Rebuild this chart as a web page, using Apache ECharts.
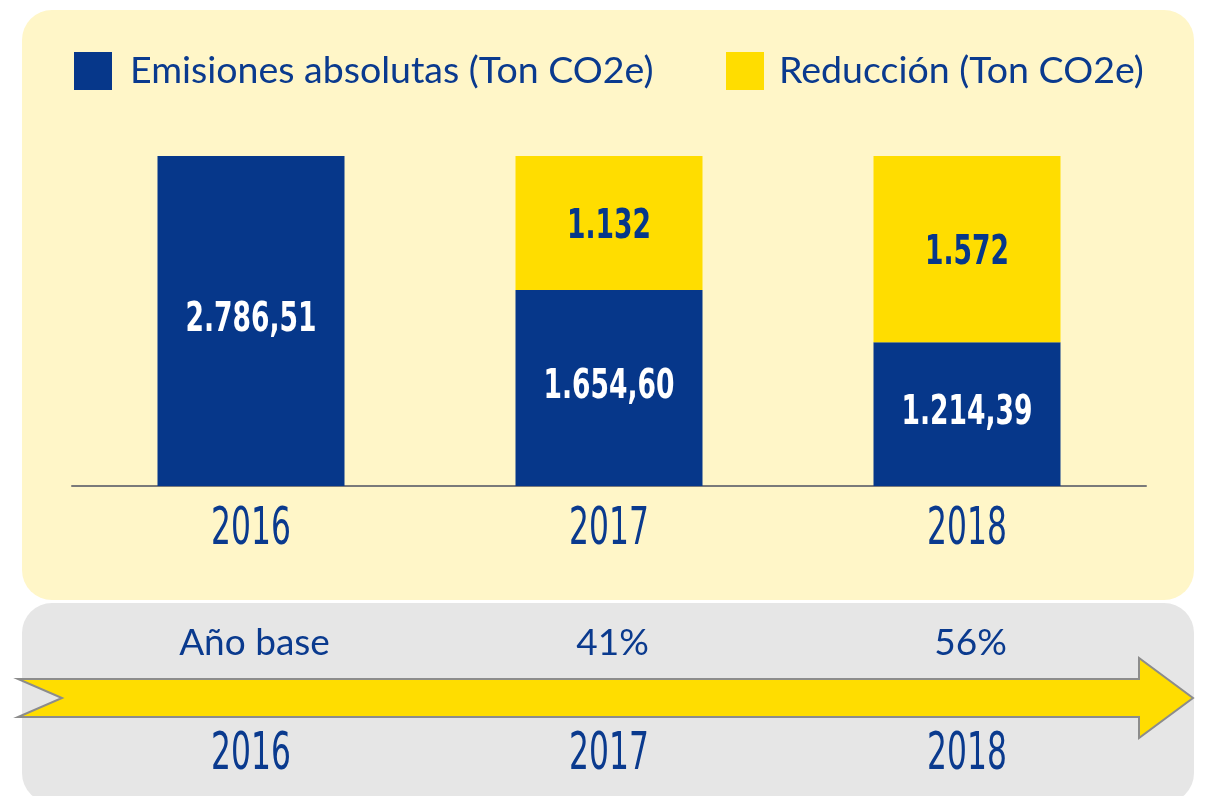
<!DOCTYPE html>
<html>
<head>
<meta charset="utf-8">
<script src="https://cdn.jsdelivr.net/npm/echarts@6/dist/echarts.min.js"></script>
<style>
  html, body { margin: 0; padding: 0; background: #ffffff; }
  #chart { width: 1216px; height: 796px; }
</style>
</head>
<body>
<div id="chart"></div>
<script>
const categories = ['2016', '2017', '2018'];
const emisiones = [2786.51, 1654.60, 1214.39];
const reduccion = [null, 1132, 1572];
const reduccionPct = ['Año base', '41%', '56%'];
const seriesNames = ['Emisiones absolutas (Ton CO2e)', 'Reducción (Ton CO2e)'];

const BLUE = '#06378A';
const YELLOW = '#FFDD00';
const TEXT_BLUE = '#0A3A8E';

function fmt(v, dec) {
  const fixed = v.toFixed(dec);
  const parts = fixed.split('.');
  const intPart = parts[0].replace(/\B(?=(\d{3})+(?!\d))/g, '.');
  return dec > 0 ? intPart + ',' + parts[1] : intPart;
}

// label data: [categoryIndex, segmentLow, segmentHigh, kind(0=emisiones,1=reduccion)]
const segLabels = [];
categories.forEach((c, i) => {
  segLabels.push([i, 0, emisiones[i], 0]);
  if (reduccion[i] != null) segLabels.push([i, emisiones[i], emisiones[i] + reduccion[i], 1]);
});
const yearData = categories.map((c, i) => [i, 0]);

const chart = echarts.init(document.getElementById('chart'), null, { renderer: 'canvas' });
const geo = 'Lato, sans-serif';
const YEAR_FONT = 'condensed normal 52px "DejaVu Sans", sans-serif';
const VAL_FONT = 'condensed bold 41px "DejaVu Sans", sans-serif';

function yearRender(dy) {
  return function (params, api) {
    const i = api.value(0);
    const p = api.coord([i, 0]);
    return {
      type: 'text', x: p[0], y: p[1] + dy, scaleX: 0.67,
      style: { text: categories[i], font: YEAR_FONT, fill: TEXT_BLUE, align: 'center', verticalAlign: 'middle' }
    };
  };
}

chart.setOption({
  backgroundColor: '#ffffff',
  animation: false,
  graphic: [
    { type: 'rect', z: -10, shape: { x: 22, y: 10, width: 1172, height: 590, r: 30 }, style: { fill: '#FFF6C8' } },
    { type: 'rect', z: -10, shape: { x: 22, y: 603, width: 1172, height: 200, r: 30 }, style: { fill: '#E6E6E6' } },
    { type: 'polygon', z: -5,
      shape: { points: [[18, 679], [1139, 679], [1139, 658], [1193, 698], [1139, 738], [1139, 717], [18, 717], [62, 698]] },
      style: { fill: YELLOW, stroke: '#8C8C8C', lineWidth: 2 } }
  ],
  legend: [
    { data: [seriesNames[0]], left: 74, top: 52, padding: 0, itemWidth: 38, itemHeight: 38, itemGap: 0, icon: 'rect',
      textStyle: { fontFamily: geo, fontSize: 37.5, color: TEXT_BLUE, padding: [0, 0, 0, 13] } },
    { data: [seriesNames[1]], left: 726, top: 52, padding: 0, itemWidth: 38, itemHeight: 38, itemGap: 0, icon: 'rect',
      textStyle: { fontFamily: geo, fontSize: 37.5, color: TEXT_BLUE, padding: [0, 0, 0, 10] } }
  ],
  grid: [
    { left: 72, right: 70, top: 156, bottom: 310 },
    { left: 72, right: 70, top: 643, bottom: 40 }
  ],
  xAxis: [
    { type: 'category', data: categories, gridIndex: 0,
      axisLine: { lineStyle: { color: '#7A7A7A', width: 2 } },
      axisTick: { show: false },
      axisLabel: { show: false } },
    { type: 'category', data: reduccionPct, gridIndex: 1, position: 'top',
      axisLine: { show: false }, axisTick: { show: false },
      axisLabel: { color: TEXT_BLUE, fontFamily: geo, fontSize: 37, margin: 0, verticalAlign: 'middle', padding: [0, 0, 0, 7] } }
  ],
  yAxis: [
    { type: 'value', gridIndex: 0, min: 0, max: 2786.51, show: false, splitLine: { show: false } },
    { type: 'value', gridIndex: 1, min: 0, max: 1, show: false, splitLine: { show: false } }
  ],
  series: [
    { name: seriesNames[0], type: 'bar', stack: 'total', data: emisiones, barWidth: 187,
      xAxisIndex: 0, yAxisIndex: 0, itemStyle: { color: BLUE } },
    { name: seriesNames[1], type: 'bar', stack: 'total', data: reduccion, barWidth: 187,
      xAxisIndex: 0, yAxisIndex: 0, itemStyle: { color: YELLOW } },
    { type: 'custom', name: 'valueLabels', xAxisIndex: 0, yAxisIndex: 0, z: 5, clip: false,
      data: segLabels, silent: true,
      renderItem: function (params, api) {
        const i = api.value(0), lo = api.value(1), hi = api.value(2), kind = api.value(3);
        const p = api.coord([i, (lo + hi) / 2]);
        return {
          type: 'text', x: p[0], y: p[1] + (kind === 1 ? 4 : -1), scaleX: 0.72,
          style: {
            text: kind === 1 ? fmt(hi - lo, 0) : fmt(hi - lo, 2),
            font: VAL_FONT, fill: kind === 1 ? BLUE : '#FFFFFF',
            align: 'center', verticalAlign: 'middle'
          }
        };
      } },
    { type: 'custom', name: 'yearTop', xAxisIndex: 0, yAxisIndex: 0, z: 5, clip: false,
      data: yearData, silent: true, renderItem: yearRender(44) },
    { type: 'custom', name: 'yearBottom', xAxisIndex: 1, yAxisIndex: 1, z: 5, clip: false,
      data: yearData, silent: true, renderItem: yearRender(-1) }
  ]
});
</script>
</body>
</html>
